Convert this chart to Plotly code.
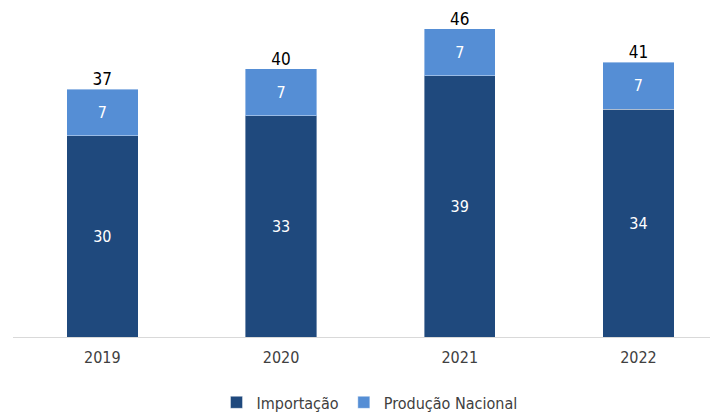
import plotly.graph_objects as go

anos = ['2019', '2020', '2021', '2022']
importacao = [30, 33, 39, 34]
producao_nacional = [7, 7, 7, 7]
totais = [i + p for i, p in zip(importacao, producao_nacional)]

FONTE = 'DejaVu Sans Condensed, Roboto, sans-serif'
AZUL_ESCURO = '#1F497D'
AZUL_CLARO = '#558ED5'

x_pos = list(range(len(anos)))

fig = go.Figure()

# Importação (base)
fig.add_trace(go.Bar(
    x=x_pos,
    y=importacao,
    name='Importação',
    marker=dict(color=AZUL_ESCURO, line=dict(color='rgba(255,255,255,0.4)', width=1)),
    width=0.4,
    text=importacao,
    textposition='inside',
    insidetextanchor='middle',
    textfont=dict(color='white', size=16, family=FONTE),
))

# Produção nacional (topo)
fig.add_trace(go.Bar(
    x=x_pos,
    y=producao_nacional,
    name='Produção Nacional',
    marker=dict(color=AZUL_CLARO, line=dict(color='rgba(255,255,255,0.4)', width=1)),
    width=0.4,
    text=producao_nacional,
    textposition='inside',
    insidetextanchor='middle',
    textfont=dict(color='white', size=16, family=FONTE),
))

# Totais acima das barras
fig.add_trace(go.Scatter(
    x=x_pos,
    y=totais,
    mode='text',
    text=[str(t) for t in totais],
    textposition='top center',
    textfont=dict(color='#000000', size=17, family=FONTE),
    showlegend=False,
    hoverinfo='skip',
))

# a página tem ~8px de margem do body, compensado nas margens
fig.update_layout(
    barmode='stack',
    width=718,
    height=420,
    margin=dict(l=5, r=0, t=2, b=91, autoexpand=False),
    plot_bgcolor='white',
    paper_bgcolor='white',
    uniformtext=dict(minsize=10, mode='show'),
    font=dict(family=FONTE, size=16, color='#404040'),
    legend=dict(
        orientation='h',
        x=0.5, xanchor='center',
        y=-0.2, yanchor='middle',
        font=dict(size=16, color='#404040', family=FONTE),
        itemwidth=30,
        traceorder='normal',
    ),
)

fig.update_xaxes(
    tickmode='array',
    tickvals=x_pos,
    ticktext=anos,
    range=[-0.5, 3.49],
    showline=True,
    linecolor='#D9D9D9',
    linewidth=1,
    showgrid=False,
    ticks='',
    ticklabelstandoff=6,
    automargin=False,
    tickfont=dict(size=16, color='#404040', family=FONTE),
    zeroline=False,
)

fig.update_yaxes(
    range=[0, 48.8],
    visible=False,
    showgrid=False,
    zeroline=False,
    automargin=False,
)

fig.write_html('out.html')
